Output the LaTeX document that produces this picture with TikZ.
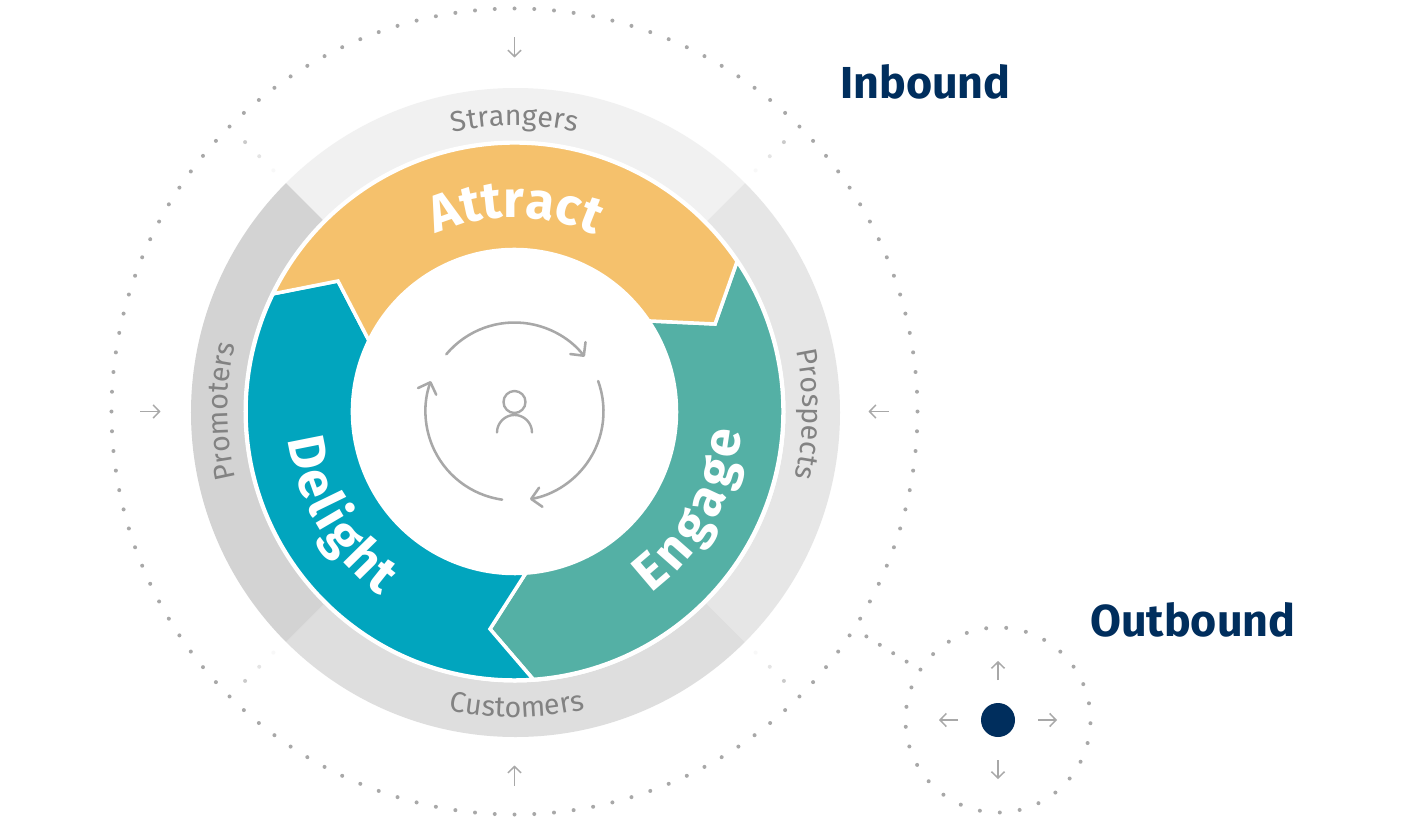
\documentclass[tikz,border=0pt]{standalone}
\usepackage{xcolor}
\usepackage{fontspec}
\setmainfont{Fira Sans}
\usetikzlibrary{calc}
\usetikzlibrary{arrows.meta}
\usetikzlibrary{decorations.text}
\definecolor{navy}{HTML}{002E5D}
\definecolor{dotgrey}{HTML}{A8A8A8}
\definecolor{labelgrey}{HTML}{828282}
\definecolor{attractc}{HTML}{F5C16C}
\definecolor{engagec}{HTML}{54B0A5}
\definecolor{delightc}{HTML}{01A5BE}
\definecolor{strangerc}{HTML}{F1F1F1}
\definecolor{prospectc}{HTML}{E6E6E6}
\definecolor{customerc}{HTML}{DEDEDE}
\definecolor{promoterc}{HTML}{D3D3D3}
\newcommand{\ringfont}{\fontsize{16.3}{18}\selectfont}
\newcommand{\stagefont}{\fontsize{29.5}{32}\selectfont\bfseries}
\newcommand{\titlefont}{\fontsize{25.5}{28}\selectfont\bfseries}
\tikzset{
	ringlabel/.style={decorate,decoration={text along path,text={|\ringfont|#1},text color=labelgrey,text align=center}},
	stagelabel/.style={decorate,decoration={text along path,text={|\stagefont|#1},text color=white,text align=fit to path}},
	stage/.style={draw=white,line width=2pt,line join=miter},
	smallarrow/.style={draw=dotgrey,line width=0.85pt,-{Straight Barb[length=3.6pt,width=7.5pt]}},
	cyclearrow/.style={draw=dotgrey,line width=1.45pt,line cap=round,-{Straight Barb[length=5.5pt,width=11pt,round]}},
	titlenode/.style={anchor=base west,inner sep=0pt,text=navy,font=\titlefont}
}
\begin{document}
\begin{tikzpicture}[x=0.02cm,y=0.02cm]
		\def\cz{2}
		\useasboundingbox (-514.5,-410.5) rectangle (894.5,411.5);
		\fill [white] (-514.5,-410.5) rectangle (894.5,411.5);
		% ring
		\begin{scope}[shift={(1,-1)}]
		\fill [strangerc] (45:324.5) arc [start angle=45,end angle=135,radius=324.5] -- (135:270) arc [start angle=135,end angle=45,radius=270] -- cycle;
		\fill [prospectc] (45:324.5) arc [start angle=45,end angle=-45,radius=324.5] -- (-45:270) arc [start angle=-45,end angle=45,radius=270] -- cycle;
		\fill [customerc] (-45:324.5) arc [start angle=-45,end angle=-135,radius=324.5] -- (-135:270) arc [start angle=-135,end angle=-45,radius=270] -- cycle;
		\fill [promoterc] (135:324.5) arc [start angle=135,end angle=225,radius=324.5] -- (225:270) arc [start angle=225,end angle=135,radius=270] -- cycle;
		\end{scope}
		% stages
		\coordinate (notchA) at (200.5,87.5);
		\coordinate (notchB) at (-24.5,-217.5);
		\coordinate (notchC) at (-176.5,130.5);
		\fill [white] (0,0) circle (271);
		\filldraw [stage,fill=engagec] (34:268.5) arc [start angle=34,end angle=-86,radius=268.5] -- (notchB) -- (-86:162) arc [start angle=-86,end angle=34,radius=162] -- (notchA) -- cycle;
		\filldraw [stage,fill=delightc] (-86:268.5) arc [start angle=-86,end angle=-206,radius=268.5] -- (notchC) -- (154:162) arc [start angle=154,end angle=274,radius=162] -- (notchB) -- cycle;
		\filldraw [stage,fill=attractc] (154:268.5) arc [start angle=154,end angle=34,radius=268.5] -- (notchA) -- (34:162) arc [start angle=34,end angle=154,radius=162] -- (notchC) -- cycle;
		% labels
		\path [ringlabel=Strangers] (110:286) arc [start angle=110,end angle=70,radius=286];
		\path [ringlabel=Prospects] (20:288) arc [start angle=20,end angle=-21,radius=288];
		\path [ringlabel=Customers] (-110:306) arc [start angle=-110,end angle=-69,radius=306];
		\path [ringlabel=Promoters] (200:287) arc [start angle=200,end angle=160,radius=287];
		\path [stagelabel=Attract] (114:194) arc [start angle=114,end angle=66,radius=194];
		\path [stagelabel=Engage] (-53:228) arc [start angle=-53,end angle=-5,radius=228];
		\path [stagelabel=Delight] (187:228) arc [start angle=187,end angle=234,radius=228];
		% centre
		\draw [cyclearrow] (140:89) arc [start angle=140,end angle=38,radius=89];
		\draw [cyclearrow] (20:89) arc [start angle=20,end angle=-80,radius=89];
		\draw [cyclearrow] (-98:89) arc [start angle=-98,end angle=-200,radius=89];
		\draw [dotgrey,line width=1.35pt] (0,9.5) circle (11);
		\draw [dotgrey,line width=1.35pt,line cap=round] (-17.5,-21) arc [start angle=180,end angle=0,radius=17.5];
		% outer dots
		\foreach \i in {1,...,128}
			\fill [dotgrey] (90-\i*2.8125:403) circle (\cz);
		\foreach \a in {45,135,-45,-135} {
			\fill [dotgrey,opacity=0.6] (\a:381) circle (\cz);
			\fill [dotgrey,opacity=0.3] (\a:361) circle (\cz);
			\fill [dotgrey,opacity=0.08] (\a:341) circle (\cz);
		}
		\foreach \a in {0,90,180,270}
			\draw [smallarrow] (\a:374) -- (\a:354);
		% outbound
		\node [circle,fill=navy,inner sep=0pt,minimum size=34*0.02cm] (hub) at (483.5,-308.5) {};
		\foreach \a in {0,90,180,270}
			\draw [smallarrow] ($(hub)+(\a:40)$) -- ($(hub)+(\a:59)$);
		\foreach \i in {0,...,28}
			\fill [dotgrey] ($(hub)+(-2+\i*12.414:92.5)$) circle (\cz);
		\coordinate (linkA) at (338.5,-216.5);
		\coordinate (linkB) at (405.5,-258.5);
		\foreach \t in {0.2,0.4,0.6,0.8}
			\fill [dotgrey] ($(linkA)!\t!(linkB)$) circle (\cz);
		% titles
		\node [titlenode] (inbound) at (325.5,313.5) {Inbound};
		\node [titlenode] (outbound) at (575.5,-224.5) {Outbound};
	\end{tikzpicture}
\end{document}
